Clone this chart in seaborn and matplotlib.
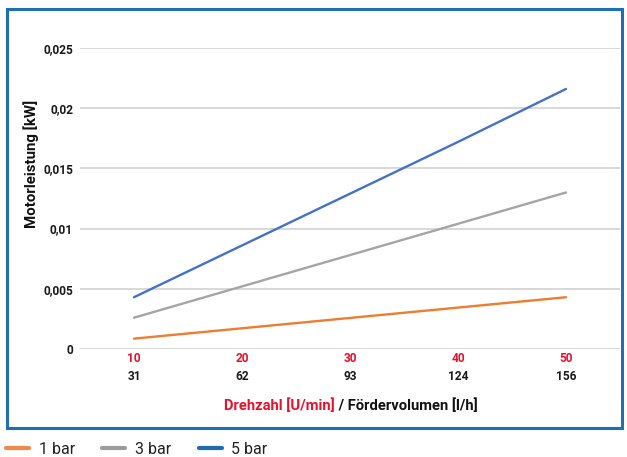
import matplotlib
matplotlib.use("Agg")
import matplotlib.pyplot as plt
import seaborn as sns
import pandas as pd
from matplotlib.lines import Line2D
from matplotlib.patches import Rectangle
from matplotlib.transforms import blended_transform_factory

drehzahl = ["10", "20", "30", "40", "50"]
volumen = ["31", "62", "93", "124", "156"]
series_names = ["1 bar", "3 bar", "5 bar"]
bar1 = [0.00086, 0.00172, 0.00258, 0.00344, 0.0043]
bar3 = [0.0026, 0.0052, 0.0078, 0.0104, 0.0130]
bar5 = [0.0043, 0.0086, 0.0129, 0.0172, 0.0216]
y_ticks = [0, 0.005, 0.01, 0.015, 0.02, 0.025]
y_labels = ["0", "0,005", "0,01", "0,015", "0,02", "0,025"]
xlabel_red = "Drehzahl [U/min]"
xlabel_black = " / Fördervolumen [l/h]"

line_colors = ["#ED7D31", "#A5A5A5", "#4472C4"]
legend_colors = ["#F0894A", "#9C9C9C", "#1F6BB0"]

sns.set_style("white")
plt.rcParams["font.family"] = ["Roboto", "DejaVu Sans"]

rows = []
for name, vals in zip(series_names, [bar1, bar3, bar5]):
    for i, v in enumerate(vals):
        rows.append({"pos": i, "value": v, "series": name})
df = pd.DataFrame(rows)

W, H = 627, 457
fig = plt.figure(figsize=(W / 100, H / 100), dpi=100)
ax = fig.add_axes([80 / W, (H - 349) / H, 540 / W, 301 / H])

sns.lineplot(data=df, x="pos", y="value", hue="series", palette=line_colors,
             linewidth=1.7, ax=ax, legend=False)

ax.set_xlim(-0.5, len(drehzahl) - 0.5)
ax.set_ylim(0, 0.025)
ax.set_yticks(y_ticks)
ax.set_yticklabels(y_labels, fontsize=8.6, fontweight="bold", color="#1a1a1a")
ax.set_xticks(range(len(drehzahl)))
ax.set_xticklabels([])
ax.tick_params(axis="both", length=0, pad=5)
ax.grid(axis="y", color="#D6D6D6", linewidth=1.3)
ax.set_axisbelow(True)
for s in ax.spines.values():
    s.set_visible(False)
ax.set_xlabel("")
ax.set_ylabel("")

tr = blended_transform_factory(ax.transData, fig.transFigure)
for i, (d, v) in enumerate(zip(drehzahl, volumen)):
    ax.text(i, (H - 358) / H, d, transform=tr, ha="center", va="center",
            fontsize=8.6, fontweight="bold", color="#E8112D")
    ax.text(i, (H - 377) / H, v, transform=tr, ha="center", va="center",
            fontsize=8.6, fontweight="bold", color="#1a1a1a")

t_red = fig.text(0, (H - 406) / H, xlabel_red, ha="left", va="center",
                 fontsize=10.6, fontweight="bold", color="#E8112D")
t_blk = fig.text(0, (H - 406) / H, xlabel_black, ha="left", va="center",
                 fontsize=10.6, fontweight="bold", color="#111111")
fig.canvas.draw()
r = fig.canvas.get_renderer()
w_red = t_red.get_window_extent(r).width
w_blk = t_blk.get_window_extent(r).width
x0 = 351 - (w_red + w_blk) / 2
t_red.set_x(x0 / W)
t_blk.set_x((x0 + w_red) / W)

fig.text(31 / W, (H - 164) / H, "Motorleistung [kW]", rotation=90, ha="center",
         va="center", fontsize=10.8, fontweight="bold", color="#111111")

fig.patches.append(Rectangle((7 / W, (H - 428) / H), 615 / W, 419 / H,
                             transform=fig.transFigure, fill=False,
                             edgecolor="#1F6FB4", linewidth=2.2))

handles = [Line2D([], [], color=c, linewidth=3) for c in legend_colors]
fig.legend(handles, series_names, loc="center left",
           bbox_to_anchor=(6 / W, (H - 449) / H), ncol=3, frameon=False,
           handlelength=1.44, handletextpad=0.6, columnspacing=1.72,
           prop={"family": "Roboto", "size": 11.5}, labelcolor="#222222",
           borderpad=0, borderaxespad=0)

fig.savefig("out.png", dpi=100)
